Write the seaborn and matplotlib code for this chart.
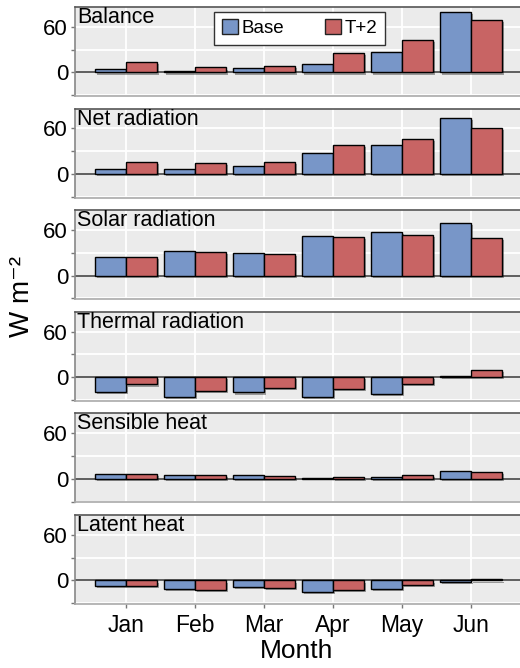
import matplotlib
matplotlib.use("Agg")
import matplotlib.pyplot as plt
import matplotlib.patheffects as pe
from matplotlib.ticker import FixedLocator
import numpy as np
import pandas as pd
import seaborn as sns

months = ["Jan", "Feb", "Mar", "Apr", "May", "Jun"]
scenarios = ["Base", "T+2"]
panels = ["Balance", "Net radiation", "Solar radiation",
          "Thermal radiation", "Sensible heat", "Latent heat"]

balance_base = [4, 1.5, 5.5, 10.5, 27.5, 80]
balance_t2 = [14, 6.5, 9, 26, 43, 68.5]
netrad_base = [6, 7, 10, 27.5, 37.5, 73.5]
netrad_t2 = [16, 14.5, 16, 38, 46, 60.5]
solar_base = [24.5, 32, 29.5, 52.5, 57.5, 69.5]
solar_t2 = [24, 31, 29, 50.5, 53.5, 50]
thermal_base = [-19, -25.5, -20, -26.5, -21.5, 2.2]
thermal_t2 = [-9.5, -17.5, -14, -15, -9, 9.3]
sensible_base = [6, 4.5, 4.5, 0.5, 3, 10.5]
sensible_t2 = [6.5, 4.5, 4, 1.8, 5.5, 9]
latent_base = [-7.5, -11, -8, -15, -11.5, -2.2]
latent_t2 = [-7.5, -12, -9.5, -12.5, -6.5, 1.3]

series = {
    "Balance": (balance_base, balance_t2),
    "Net radiation": (netrad_base, netrad_t2),
    "Solar radiation": (solar_base, solar_t2),
    "Thermal radiation": (thermal_base, thermal_t2),
    "Sensible heat": (sensible_base, sensible_t2),
    "Latent heat": (latent_base, latent_t2),
}

rows = []
for name in panels:
    base, t2 = series[name]
    for m, b, t in zip(months, base, t2):
        rows.append({"Panel": name, "Month": m, "Scenario": "Base", "value": b})
        rows.append({"Panel": name, "Month": m, "Scenario": "T+2", "value": t})
df = pd.DataFrame(rows)

palette = {"Base": "#7896C8", "T+2": "#C86464"}

sns.set_theme(style="white")
plt.rcParams["font.family"] = ["Liberation Sans", "DejaVu Sans"]
plt.rcParams["text.color"] = "black"
plt.rcParams["xtick.labelcolor"] = "black"
plt.rcParams["ytick.labelcolor"] = "black"
plt.rcParams["axes.labelcolor"] = "black"

W, H = 520, 668
fig = plt.figure(figsize=(W / 100, H / 100), dpi=100)

left_px, right_px = 75, 520
top0, step, height = 7, 101.6, 89

shadow = [pe.SimplePatchShadow(offset=(1.5, -1.5), shadow_rgbFace="black", alpha=0.35),
          pe.Normal()]

for i, name in enumerate(panels):
    top = top0 + i * step
    ax = fig.add_axes([left_px / W, 1 - (top + height) / H,
                       (right_px - left_px) / W, height / H])
    ax.set_facecolor("#EBEBEB")
    sub = df[df["Panel"] == name]
    sns.barplot(data=sub, x="Month", y="value", hue="Scenario",
                order=months, hue_order=scenarios, palette=palette,
                width=0.9, edgecolor="black", linewidth=1.0,
                saturation=1, ax=ax, legend=(i == 0), zorder=3)
    for p in ax.patches:
        p.set_path_effects(shadow)

    ax.set_xlim(-0.74, 5.71)
    ax.set_ylim(-31, 86)
    ax.yaxis.set_major_locator(FixedLocator([0, 60]))
    ax.yaxis.set_minor_locator(FixedLocator([-30, 30]))
    ax.set_yticklabels(["0", "60"])
    ax.grid(True, which="both", axis="y", color="white", linewidth=1.3, zorder=0)
    ax.grid(True, which="major", axis="x", color="white", linewidth=1.3, zorder=0)
    ax.set_axisbelow(True)
    ax.axhline(0, color="#333333", linewidth=1.1, zorder=2)

    ax.tick_params(axis="y", which="major", left=True, length=3, width=1,
                   color="#777777", labelsize=16, pad=2, labelcolor="black")
    ax.tick_params(axis="y", which="minor", left=True, length=3, width=1,
                   color="#777777")
    ax.set_ylabel("")
    ax.set_xlabel("")

    for s in ["left", "bottom", "top"]:
        ax.spines[s].set_visible(True)
        ax.spines[s].set_linewidth(1.2)
    ax.spines["left"].set_color("#888888")
    ax.spines["bottom"].set_color("#AAAAAA")
    ax.spines["top"].set_color("#555555")
    ax.spines["right"].set_visible(False)

    ax.text(0.005, 1.0, name, transform=ax.transAxes, ha="left", va="top",
            fontsize=15.5, color="black", zorder=5)

    if i == len(panels) - 1:
        ax.tick_params(axis="x", bottom=True, length=3, width=1,
                       color="#777777", labelsize=16.5, pad=4, labelcolor="black")
    else:
        ax.tick_params(axis="x", bottom=False, labelbottom=False)

    if i == 0:
        leg = ax.legend(loc="upper center", bbox_to_anchor=(0.505, 1.01),
                        ncol=2, fontsize=13.5, frameon=True, fancybox=False,
                        handlelength=0.85, handleheight=0.85, handletextpad=0.2,
                        columnspacing=2.2, borderpad=0.4, borderaxespad=0.3,
                        title=None)
        leg.get_frame().set_edgecolor("#333333")
        leg.get_frame().set_linewidth(1.0)
        leg.get_frame().set_facecolor("white")
        leg.get_frame().set_alpha(1)
        for t in leg.get_texts():
            t.set_color("black")
        for h in leg.legend_handles:
            h.set_path_effects([])
            h.set_edgecolor("#222222")

fig.text(22 / W, 1 - 297 / H, "W m\u207b\u00b2", rotation=90,
         ha="center", va="center", fontsize=20, color="black",
         family=["Liberation Sans", "DejaVu Sans"])
fig.text(297 / W, 1 - 651 / H, "Month", ha="center", va="center",
         fontsize=19, color="black")

fig.savefig("out.png", dpi=100)
